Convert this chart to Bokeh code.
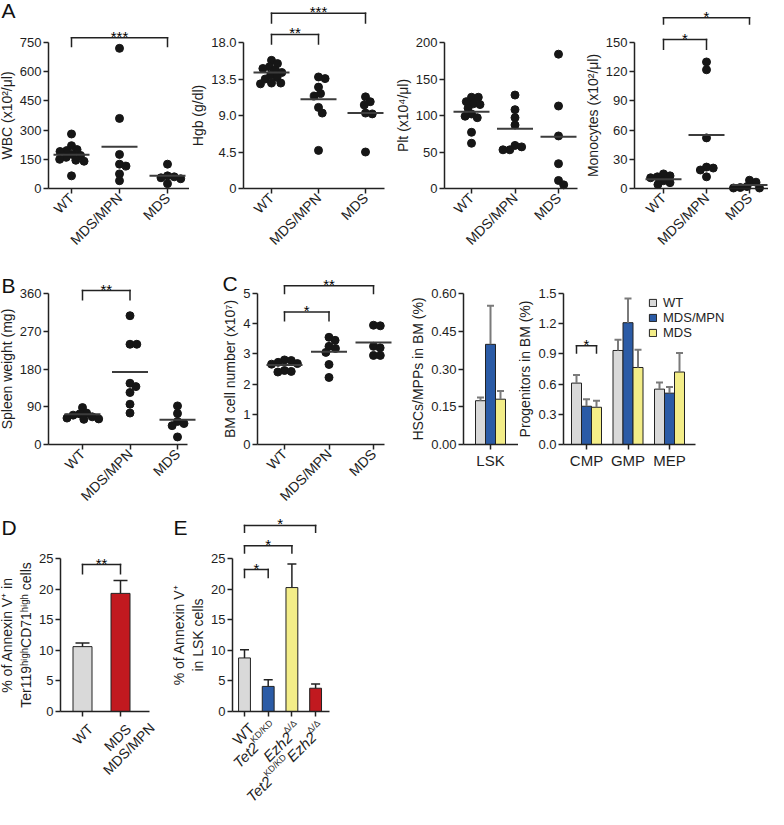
import math
from bokeh.plotting import figure
from bokeh.models import FixedTicker, Range1d, Legend, LegendItem
from bokeh.layouts import row, column
from bokeh.embed import file_html
from bokeh.resources import INLINE
from bokeh.core.properties import value

FONT = "Liberation Sans"
AXC = "#222222"
TXT = "#1e1e1e"
DOT = "#161616"
MEANC = "#3c3c3c"
ERRG = "#7a7a7a"
C_WT, C_MPN, C_MDS, C_RED = "#d9d9d9", "#2b5ba6", "#f3ed88", "#c1191f"

groups = ["WT", "MDS/MPN", "MDS"]

# ---------------- Panel A data ----------------
wbc_wt = [280, 220, 200, 195, 190, 175, 170, 160, 150, 145, 140, 65]
wbc_mpn = [720, 360, 175, 125, 115, 75, 40]
wbc_mds = [125, 65, 60, 55, 50, 25]
wbc_means = [174, 215, 65]

hgb_wt = [15.8, 15.4, 15.0, 14.8, 14.6, 14.3, 14.0, 13.7, 13.5, 13.0, 13.0, 12.9]
hgb_mpn = [13.75, 13.55, 12.5, 11.7, 11.4, 10.0, 9.3, 4.7]
hgb_mds = [11.3, 10.7, 10.3, 9.3, 9.2, 4.5]
hgb_means = [14.3, 11.0, 9.3]

plt_wt = [125, 125, 119, 116, 115, 110, 102, 99, 97, 77, 62]
plt_mpn = [128, 108, 97, 87, 59, 57, 53, 53]
plt_mds = [184, 113, 72, 34, 11, 5]
plt_means = [105, 82, 71]

mono_wt = [15, 13, 12, 11, 8, 6, 4]
mono_mpn = [130, 122, 52, 22, 21, 19, 12]
mono_mds = [8.5, 6.5, 2, 1, 0.5, 0.5]
mono_means = [9.5, 55, 3.7]

# ---------------- Panel B / C data ----------------
spleen_wt = [88, 75, 73, 70, 66, 63, 61, 60]
spleen_mpn = [307, 239, 239, 146, 138, 124, 96, 75]
spleen_mds = [92, 74, 55, 50, 45, 18]
spleen_means = [72, 173, 59]

bm_wt = [2.8, 2.78, 2.72, 2.68, 2.66, 2.45, 2.42, 2.4]
bm_mpn = [3.55, 3.45, 3.25, 3.18, 3.05, 2.65, 2.22]
bm_mds = [3.95, 3.93, 3.25, 3.2, 2.95, 2.95]
bm_means = [2.63, 3.07, 3.38]

lsk_mean = [0.174, 0.398, 0.18]
lsk_sem = [0.013, 0.153, 0.033]

prog_cats = ["CMP", "GMP", "MEP"]
prog_wt = [0.61, 0.934, 0.55]
prog_mpn = [0.38, 1.21, 0.51]
prog_mds = [0.37, 0.765, 0.72]
prog_wt_sem = [0.08, 0.106, 0.065]
prog_mpn_sem = [0.07, 0.24, 0.06]
prog_mds_sem = [0.065, 0.175, 0.19]

# ---------------- Panel D / E data ----------------
d_mean = [10.6, 19.3]
d_sem = [0.6, 2.1]
e_mean = [8.75, 4.1, 20.25, 3.8]
e_sem = [1.35, 1.1, 3.85, 0.7]

# significance brackets: (group a, group b, bracket top, leg end, stars)
wbc_br = [(0, 2, 775, 730, "***")]
hgb_br = [(0, 2, 21.6, 20.4, "***"), (0, 1, 19.0, 17.8, "**")]
mono_br = [(0, 2, 175.5, 169, "*"), (0, 1, 153, 143, "*")]
spleen_br = [(0, 1, 367, 345, "**")]
bm_br = [(0, 2, 5.26, 5.0, "**"), (0, 1, 4.39, 4.1, "*")]
prog_br = [(0, 2, 0.98, 0.91, "*")]
d_br = [(0, 1, 24.0, 22.5, "**")]
e_br = [(0, 3, 30.4, 29.3, "*"), (0, 2, 27.1, 25.9, "*"), (0, 1, 23.2, 21.9, "*")]

# approximate Arial advance widths (em) for hand-set rotated labels
CW = {"W": .944, "T": .611, "e": .556, "t": .278, "2": .556, "K": .667, "D": .722,
      "/": .278, "E": .667, "z": .5, "h": .556, "\u0394": .668, " ": .278, "M": .833,
      "S": .667, "P": .667, "N": .722}


def tw(s, size):
    return sum(CW.get(c, .56) for c in s) * size


class Panel:
    """Whole figure is the frame; axes are drawn at fixed locations inside it."""

    def __init__(s, W, H, ax_x, cat0, sp, ax_top, ax_bot, ymax, yticks, ylabels, ylabel):
        s.W, s.H, s.sp = W, H, sp
        s.xs = -cat0 / sp
        s.xe = (W - cat0) / sp
        s.yx = (ax_x - cat0) / sp
        s.ypp = (ax_bot - ax_top) / ymax
        s.ye = ymax + ax_top / s.ypp
        s.ys = -(H - ax_bot) / s.ypp
        p = figure(width=W, height=H, min_border=0,
                   x_range=Range1d(s.xs, s.xe), y_range=Range1d(s.ys, s.ye),
                   output_backend="svg", toolbar_location=None, tools="", title=None)
        p.outline_line_color = None
        p.xgrid.visible = False
        p.ygrid.visible = False
        p.background_fill_color = "white"
        p.border_fill_color = "white"
        for ax in p.axis:
            ax.axis_line_color = AXC
            ax.axis_line_width = 1.5
            ax.major_tick_line_color = AXC
            ax.major_tick_line_width = 1.5
            ax.major_tick_in = 0
            ax.major_tick_out = 5
            ax.minor_tick_line_color = None
            ax.major_label_text_font = FONT
            ax.major_label_text_font_size = "13px"
            ax.major_label_text_color = TXT
            ax.major_label_standoff = 2
            ax.axis_label_text_font = FONT
            ax.axis_label_text_font_size = "14px"
            ax.axis_label_text_font_style = "normal"
            ax.axis_label_text_color = TXT
            ax.axis_label_standoff = 2
        p.yaxis.ticker = FixedTicker(ticks=yticks)
        p.yaxis.major_label_overrides = dict(zip(yticks, ylabels))
        p.yaxis.bounds = (0, ymax)
        p.yaxis.axis_label = ylabel
        p.yaxis.fixed_location = s.yx
        p.xaxis.fixed_location = 0
        p.xaxis.major_label_text_font_size = "14px"
        s.p = p

    def at(s, px, py):
        return s.xs + px / s.sp, s.ye - py / s.ypp

    def txt(s, xs, ys, texts, size, align="left", baseline="alphabetic", angle=0.0,
            style="normal", color=TXT):
        s.p.text(x=xs, y=ys, text=texts, angle=angle,
                 text_align=value(align), text_baseline=value(baseline),
                 text_font=value(FONT), text_font_size=value(f"{size}px"),
                 text_font_style=value(style), text_color=value(color))

    def letter(s, text, px, py):
        x, y = s.at(px, py)
        s.txt([x], [y], [text], 21, baseline="top", color="#111111")

    def cat_axis(s, labels, axis_end, orient=math.pi / 4, size=14):
        xa = s.p.xaxis
        xa.ticker = FixedTicker(ticks=list(range(len(labels))))
        xa.major_label_overrides = {i: t for i, t in enumerate(labels)}
        xa.major_label_orientation = orient
        xa.major_label_text_font_size = f"{size}px"
        xa.bounds = (s.yx, axis_end)

    def brackets(s, specs, xpos=None):
        x0, y0, x1, y1, sx, sy, st = [], [], [], [], [], [], []
        for a, b, top, leg, stars in specs:
            xa = xpos[a] if xpos else a
            xb = xpos[b] if xpos else b
            for (p0, q0, p1, q1) in [(xa, leg, xa, top), (xa, top, xb, top), (xb, top, xb, leg)]:
                x0.append(p0); y0.append(q0); x1.append(p1); y1.append(q1)
            sx.append((xa + xb) / 2)
            sy.append(top + 1.5 / s.ypp)
            st.append(stars)
        s.p.segment(x0=x0, y0=y0, x1=x1, y1=y1, line_color=value(AXC), line_width=1.5,
                    line_cap="square")
        s.txt(sx, sy, st, 15, align="center", color="#000000")

    def rot_pieces(s, x_tick, pieces, end_dx=8.0, end_dy=15.0, ang=math.pi / 4):
        ux, uy = math.cos(ang), math.sin(ang)
        nx, ny = -math.sin(ang), math.cos(ang)
        total = sum(g + tw(t, sz) for t, sz, st, r, g in pieces)
        ex, ey = end_dx, -end_dy
        sx, sy = ex - total * ux, ey - total * uy
        d = 0.0
        for t, sz, st, r, g in pieces:
            d += g
            px = sx + d * ux + r * nx
            py = sy + d * uy + r * ny
            s.txt([x_tick + px / s.sp], [py / s.ypp], [t], sz, angle=ang, style=st)
            d += tw(t, sz)


def swarm(vals, ypp, diam):
    order = sorted(range(len(vals)), key=lambda i: -vals[i])
    placed, offs = [], [0.0] * len(vals)
    for i in order:
        y = vals[i] * ypp
        cands = [0.0]
        for px, py in placed:
            dy = abs(py - y)
            if dy < diam:
                dx = math.sqrt(diam ** 2 - dy ** 2)
                cands += [px + dx, px - dx]
        cands.sort(key=abs)
        c = 0.0
        for c in cands:
            if all((c - px) ** 2 + (y - py) ** 2 >= diam ** 2 - 1e-6 for px, py in placed):
                break
        placed.append((c, y))
        offs[i] = c
    return offs


def dot_panel(P, series, means):
    for i, (vals, m) in enumerate(zip(series, means)):
        offs = swarm(vals, P.ypp, 6.8)
        P.p.scatter([i + o / P.sp for o in offs], vals, size=8, fill_color=DOT, line_color=DOT)
        hw = 18 / P.sp
        P.p.segment(x0=[i - hw], y0=[m], x1=[i + hw], y1=[m], line_color=MEANC, line_width=2)


def err_bars(P, xs, tops, sems, cap_px, color, width):
    hw = cap_px / P.sp
    ends = [t + e for t, e in zip(tops, sems)]
    P.p.segment(x0=xs, y0=tops, x1=xs, y1=ends, line_color=color, line_width=width)
    P.p.segment(x0=[x - hw for x in xs], y0=ends, x1=[x + hw for x in xs], y1=ends,
                line_color=color, line_width=width)


# ---------------- Row 1: panel A ----------------
R1 = dict(H=265, ax_top=42, ax_bot=188)
a1 = Panel(189, R1["H"], 48, 71, 48, R1["ax_top"], R1["ax_bot"], 750,
           [0, 150, 300, 450, 600, 750], ["0", "150", "300", "450", "600", "750"],
           "WBC (x10\u00b2/\u03bcl)")
dot_panel(a1, [wbc_wt, wbc_mpn, wbc_mds], wbc_means)
a1.cat_axis(groups, a1.xe)
a1.brackets(wbc_br)
a1.letter("A", 1, -2)

a2 = Panel(207, R1["H"], 54, 82, 47, R1["ax_top"], R1["ax_bot"], 18,
           [0, 4.5, 9, 13.5, 18], ["0", "4.5", "9.0", "13.5", "18.0"], "Hgb (g/dl)")
dot_panel(a2, [hgb_wt, hgb_mpn, hgb_mds], hgb_means)
a2.cat_axis(groups, 2.4)
a2.brackets(hgb_br)

a3 = Panel(190, R1["H"], 48, 75, 43.5, R1["ax_top"], R1["ax_bot"], 200,
           [0, 50, 100, 150, 200], ["0", "50", "100", "150", "200"],
           "Plt (x10\u2074/\u03bcl)")
dot_panel(a3, [plt_wt, plt_mpn, plt_mds], plt_means)
a3.cat_axis(groups, 2.44)

a4 = Panel(182, R1["H"], 48, 77, 43, R1["ax_top"], R1["ax_bot"], 150,
           [0, 30, 60, 90, 120, 150], ["0", "30", "60", "90", "120", "150"],
           "Monocytes (x10\u00b2/\u03bcl)")
dot_panel(a4, [mono_wt, mono_mpn, mono_mds], mono_means)
a4.cat_axis(groups, a4.xe)
a4.brackets(mono_br)

# ---------------- Row 2: panels B, C ----------------
R2 = dict(H=244, ax_top=28, ax_bot=179)
b = Panel(221, R2["H"], 48, 82, 47.5, R2["ax_top"], R2["ax_bot"], 360,
          [0, 90, 180, 270, 360], ["0", "90", "180", "270", "360"], "Spleen weight (mg)")
dot_panel(b, [spleen_wt, spleen_mpn, spleen_mds], spleen_means)
b.cat_axis(groups, 2.21)
b.brackets(spleen_br)
b.letter("B", 1, 8)

c = Panel(189, R2["H"], 36, 63, 44.5, R2["ax_top"], R2["ax_bot"], 5,
          [0, 1, 2, 3, 4, 5], ["0", "1", "2", "3", "4", "5"], "BM cell number (x10\u2077)")
dot_panel(c, [bm_wt, bm_mpn, bm_mds], bm_means)
c.cat_axis(groups, 2.25)
c.brackets(bm_br)
c.letter("C", 1, 6)

hsc = Panel(108, R2["H"], 53, 80, 30, R2["ax_top"], R2["ax_bot"], 0.6,
            [0, 0.15, 0.3, 0.45, 0.6], ["0.00", "0.15", "0.30", "0.45", "0.60"],
            "HSCs/MPPs in BM (%)")
bw1 = 1 / 3
hx = [(k - 1) * bw1 for k in range(3)]
hsc.p.vbar(x=hx, top=lsk_mean, width=bw1, fill_color=[C_WT, C_MPN, C_MDS],
           line_color=AXC, line_width=1)
err_bars(hsc, hx, lsk_mean, lsk_sem, 3.5, ERRG, 2)
hsc.cat_axis(["LSK"], hsc.xe, orient="horizontal", size=15)

prog = Panel(250, R2["H"], 45, 68, 41.5, R2["ax_top"], R2["ax_bot"], 1.5,
             [0, 0.3, 0.6, 0.9, 1.2, 1.5], ["0.0", "0.3", "0.6", "0.9", "1.2", "1.5"],
             "Progenitors in BM (%)")
bw2 = 10 / 41.5
items = []
for k, (vals, sems, col, name) in enumerate(zip([prog_wt, prog_mpn, prog_mds],
                                               [prog_wt_sem, prog_mpn_sem, prog_mds_sem],
                                               [C_WT, C_MPN, C_MDS], groups)):
    xs = [i + (k - 1) * bw2 for i in range(3)]
    r = prog.p.vbar(x=xs, top=vals, width=bw2, fill_color=col, line_color=AXC, line_width=1)
    err_bars(prog, xs, vals, sems, 3.5, ERRG, 2)
    items.append(LegendItem(label=name, renderers=[r]))
prog.cat_axis(prog_cats, 2.63, orient="horizontal", size=15)
prog.brackets(prog_br, xpos=[-bw2, 0, bw2])
leg = Legend(items=items, location=(130, 169), glyph_width=9, glyph_height=9,
             label_height=14, label_standoff=6, spacing=0, padding=0, margin=0,
             border_line_color=None, background_fill_alpha=0,
             label_text_font=FONT, label_text_font_size="13px", label_text_color=TXT)
prog.p.add_layout(leg)

# ---------------- Row 3: panels D, E ----------------
R3 = dict(H=300, ax_top=49, ax_bot=202)
d = Panel(172, R3["H"], 60, 82, 38, R3["ax_top"], R3["ax_bot"], 25,
          [0, 5, 10, 15, 20, 25], ["0", "5", "10", "15", "20", "25"],
          "% of Annexin V\u207a in\nTer119\u02b0\u2071\u1d4d\u02b0CD71\u02b0\u2071\u1d4d\u02b0 cells")
d.p.vbar(x=[0, 1], top=d_mean, width=0.5, fill_color=[C_WT, C_RED], line_color=AXC, line_width=1)
err_bars(d, [0, 1], d_mean, d_sem, 7, AXC, 1.5)
d.cat_axis(["", ""], 1.76)
d.brackets(d_br)
d.letter("D", 1, 6)
d.rot_pieces(0, [("WT", 14, "normal", 0, 0)])
# centred two-line label "MDS" / "MDS/MPN"
w1, w2, lh = tw("MDS", 14), tw("MDS/MPN", 14), 16
u = (math.cos(math.pi / 4), math.sin(math.pi / 4))
n = (-math.sin(math.pi / 4), math.cos(math.pi / 4))
e1 = (8.0, -15.0)
c1 = (e1[0] - w1 / 2 * u[0], e1[1] - w1 / 2 * u[1])
c2 = (c1[0] - lh * n[0], c1[1] - lh * n[1])
e2 = (c2[0] + w2 / 2 * u[0], c2[1] + w2 / 2 * u[1])
d.rot_pieces(1, [("MDS", 14, "normal", 0, 0)], end_dx=e1[0], end_dy=-e1[1])
d.rot_pieces(1, [("MDS/MPN", 14, "normal", 0, 0)], end_dx=e2[0], end_dy=-e2[1])

e = Panel(190, R3["H"], 60, 72, 23.7, R3["ax_top"], R3["ax_bot"], 25,
          [0, 5, 10, 15, 20, 25], ["0", "5", "10", "15", "20", "25"],
          "% of Annexin V\u207a\nin LSK cells")
e.p.vbar(x=[0, 1, 2, 3], top=e_mean, width=0.5, fill_color=[C_WT, C_MPN, C_MDS, C_RED],
         line_color=AXC, line_width=1)
err_bars(e, [0, 1, 2, 3], e_mean, e_sem, 4.5, AXC, 1.5)
e.cat_axis(["", "", "", ""], 3.59)
e.brackets(e_br)
e.letter("E", 1, 6)
e_labels = [
    [("WT", 15, "normal", 0, 0)],
    [("Tet2", 15, "italic", 0, 0), ("KD/KD", 9, "normal", 5.5, -1.5)],
    [("Ezh2", 15, "italic", 0, 0), ("\u0394/\u0394", 9, "normal", 5.5, -1.5)],
    [("Tet2", 15, "italic", 0, 0), ("KD/KD", 9, "normal", 5.5, -1.5),
     ("Ezh2", 15, "italic", 0, 1), ("\u0394/\u0394", 9, "normal", 5.5, -1.5)],
]
for i, pcs in enumerate(e_labels):
    e.rot_pieces(i, pcs, end_dx=7.0, end_dy=14.0)

layout = column(row(a1.p, a2.p, a3.p, a4.p), row(b.p, c.p, hsc.p, prog.p), row(d.p, e.p))
open("out.html", "w").write(file_html(layout, INLINE))
